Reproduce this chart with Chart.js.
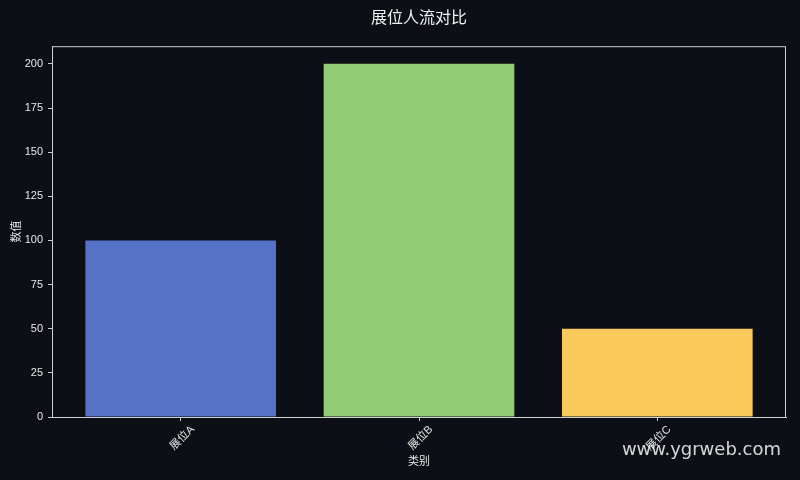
<!DOCTYPE html>
<html>
<head>
<meta charset="utf-8">
<script src="https://cdn.jsdelivr.net/npm/chart.js@4"></script>
<style>
  html, body { margin: 0; padding: 0; background: #0c0f15; }
  #wrap { width: 800px; height: 480px; }
</style>
</head>
<body>
<div id="wrap"><canvas id="c"></canvas></div>
<script>
// data
const categories = ["展位A", "展位B", "展位C"];
const values = [100, 200, 50];
const barColors = ["#5572c7", "#93cc76", "#f9c95b"];
const yTicks = [0, 25, 50, 75, 100, 125, 150, 175, 200];

const FONT = "'Liberation Sans', 'Noto Sans CJK SC', sans-serif";
const TXT = "#e6e6e6";
const AXIS = "#cfcfcf";

// background, frame and watermark
const decor = {
  id: "decor",
  beforeDraw(chart) {
    const ctx = chart.ctx;
    ctx.save();
    ctx.fillStyle = "#0c0f15";
    ctx.fillRect(0, 0, chart.width, chart.height);
    ctx.restore();
  },
  afterDraw(chart) {
    const { ctx, chartArea: a } = chart;
    ctx.save();
    ctx.strokeStyle = AXIS;
    ctx.lineWidth = 1;
    ctx.strokeRect(a.left + 0.5, a.top + 0.5, a.right - a.left - 1, a.bottom - a.top);
    ctx.fillStyle = "rgba(235,235,235,0.9)";
    ctx.font = "18px 'DejaVu Sans', sans-serif";
    ctx.textAlign = "right";
    ctx.textBaseline = "alphabetic";
    ctx.fillText("www.ygrweb.com", 781, 455);
    ctx.restore();
  },
};

new Chart(document.getElementById("c"), {
  type: "bar",
  data: {
    datasets: [{
      data: values.map((v, i) => ({ x: i, y: v })),
      backgroundColor: barColors,
      borderWidth: 0,
      barPercentage: 0.8,
      categoryPercentage: 1.0,
    }],
  },
  options: {
    responsive: true,
    maintainAspectRatio: false,
    animation: false,
    layout: { padding: { left: 0, right: 14, top: 0, bottom: 0 } },
    plugins: {
      legend: { display: false },
      tooltip: { enabled: false },
      title: {
        display: true,
        text: "展位人流对比",
        color: "#f2f2f2",
        fullSize: false,
        font: { family: FONT, size: 16, weight: "normal" },
        padding: { top: 9, bottom: 18 },
      },
    },
    scales: {
      x: {
        type: "linear",
        min: -0.54,
        max: 2.54,
        offset: false,
        afterBuildTicks: (s) => { s.ticks = categories.map((c, i) => ({ value: i })); },
        afterFit: (s) => { s.height = 63; },
        ticks: {
          color: TXT,
          font: { family: FONT, size: 11 },
          minRotation: 45,
          maxRotation: 45,
          autoSkip: false,
          labelOffset: 12,
          padding: 2,
          callback: (v) => categories[v],
        },
        grid: { offset: false, drawOnChartArea: false, drawTicks: true, tickLength: 4, color: AXIS },
        border: { color: AXIS },
        title: {
          display: true,
          text: "类别",
          color: TXT,
          font: { family: FONT, size: 11 },
          padding: { top: 4, bottom: 11 },
        },
      },
      y: {
        min: 0,
        max: 210,
        afterBuildTicks: (s) => { s.ticks = yTicks.map((v) => ({ value: v })); },
        afterFit: (s) => { s.width = 52; },
        ticks: {
          color: TXT,
          font: { family: FONT, size: 11 },
          padding: 5,
        },
        grid: { drawOnChartArea: false, drawTicks: true, tickLength: 4, color: AXIS },
        border: { color: AXIS },
        title: {
          display: true,
          text: "数值",
          color: TXT,
          font: { family: FONT, size: 11 },
          padding: { top: 10, bottom: 4 },
        },
      },
    },
  },
  plugins: [decor],
});
</script>
</body>
</html>
